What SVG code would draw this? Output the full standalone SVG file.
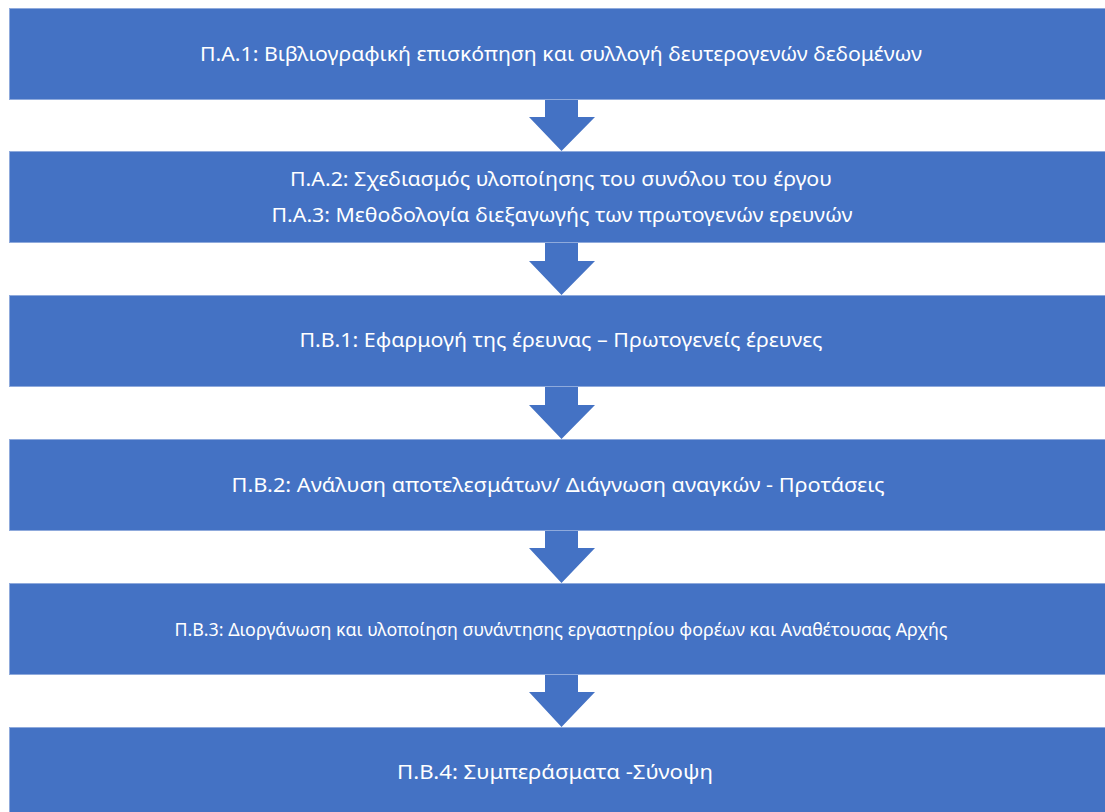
<svg xmlns="http://www.w3.org/2000/svg" width="1105" height="812" viewBox="0 0 1105 812">
<style>
.box{fill:#4472C4;stroke:#8FAADC;stroke-width:1}
.arr{fill:#4472C4;stroke:none}
.t{font-family:"Noto Sans","Open Sans",sans-serif;font-size:19.5px;fill:#ffffff;text-anchor:middle}
.s{font-size:18px}
</style>
<rect width="1105" height="812" fill="#ffffff"/>
<g id="connectors">
<polygon class="arr" points="545,99 578,99 578,117 595,117 561.5,151 529,117 545,117"/>
<polygon class="arr" points="545,243 578,243 578,261 595,261 561.5,295 529,261 545,261"/>
<polygon class="arr" points="545,387 578,387 578,405 595,405 561.5,439 529,405 545,405"/>
<polygon class="arr" points="545,530 578,530 578,548 595,548 561.5,583 529,548 545,548"/>
<polygon class="arr" points="545,674 578,674 578,692 595,692 561.5,727 529,692 545,692"/>
</g>
<g id="n1"><rect class="box" x="9.5" y="8.5" width="1110" height="91"/>
<text class="t" x="561" y="61" textLength="722" lengthAdjust="spacingAndGlyphs">Π.Α.1: Βιβλιογραφική επισκόπηση και συλλογή δευτερογενών δεδομένων</text></g>
<g id="n2"><rect class="box" x="9.5" y="151.5" width="1110" height="91"/>
<text class="t" x="561" y="186" textLength="542" lengthAdjust="spacingAndGlyphs">Π.Α.2: Σχεδιασμός υλοποίησης του συνόλου του έργου</text>
<text class="t" x="562" y="222" textLength="581" lengthAdjust="spacingAndGlyphs">Π.Α.3: Μεθοδολογία διεξαγωγής των πρωτογενών ερευνών</text></g>
<g id="n3"><rect class="box" x="9.5" y="295.5" width="1110" height="91"/>
<text class="t" x="561" y="347" textLength="523" lengthAdjust="spacingAndGlyphs">Π.Β.1: Εφαρμογή της έρευνας – Πρωτογενείς έρευνες</text></g>
<g id="n4"><rect class="box" x="9.5" y="439.5" width="1110" height="91"/>
<text class="t" x="558" y="492" textLength="653" lengthAdjust="spacingAndGlyphs">Π.Β.2: Ανάλυση αποτελεσμάτων/ Διάγνωση αναγκών - Προτάσεις</text></g>
<g id="n5"><rect class="box" x="9.5" y="583.5" width="1110" height="91"/>
<text class="t s" x="561" y="636" textLength="773" lengthAdjust="spacingAndGlyphs">Π.Β.3: Διοργάνωση και υλοποίηση συνάντησης εργαστηρίου φορέων και Αναθέτουσας Αρχής</text></g>
<g id="n6"><rect class="box" x="9.5" y="727.5" width="1110" height="100"/>
<text class="t" x="555" y="779" textLength="316" lengthAdjust="spacingAndGlyphs">Π.Β.4: Συμπεράσματα -Σύνοψη</text></g>
</svg>
